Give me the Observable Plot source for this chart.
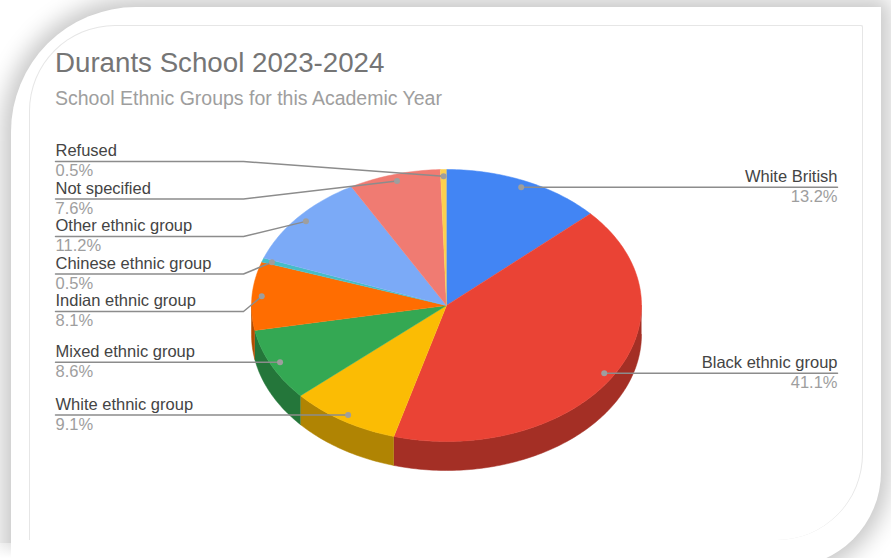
<!DOCTYPE html>
<html>
<head>
<meta charset="utf-8">
<script src="https://cdn.jsdelivr.net/npm/d3@7"></script>
<script src="https://cdn.jsdelivr.net/npm/@observablehq/plot@0.6"></script>
<style>
  html, body { margin: 0; padding: 0; background: #fff; overflow: hidden; }
  #page { position: relative; width: 891px; height: 558px; overflow: hidden; font-family: "Liberation Sans", Arial, sans-serif; }
  #card { position: absolute; left: 11px; top: 7px; width: 870px; height: 560px; background: #fff;
          border-radius: 125px 0 95px 0; box-shadow: 0 0 22px 9px #c8c8c8; }
  #fade { position: absolute; left: 0; top: 543px; width: 11px; height: 15px;
          background: linear-gradient(#ffffff66, #fff); }
  #inner { position: absolute; left: 29px; top: 25px; width: 834px; height: 515px; box-sizing: border-box;
           border: 1px solid #e6e6e6; border-bottom: 0; border-radius: 86px 2px 86px 0; }
  h1, h2 { position: absolute; left: 55px; margin: 0; font-weight: 400; white-space: nowrap; }
  h1 { top: 47px; font-size: 27.7px; line-height: 32px; color: #757575; }
  h2 { top: 87px; font-size: 19.5px; line-height: 22px; color: #9e9e9e; }
  #chart { position: absolute; left: 0; top: 0; }
  #chart svg { display: block; }
</style>
</head>
<body>
<div id="page">
  <div id="card"></div>
  <div id="fade"></div>
  <div id="inner"></div>
  <h1>Durants School 2023-2024</h1>
  <h2>School Ethnic Groups for this Academic Year</h2>
  <div id="chart"></div>
</div>
<script>
// Share of pupils per ethnic group, clockwise from twelve o'clock
const categories = ["White British", "Black ethnic group", "White ethnic group", "Mixed ethnic group",
  "Indian ethnic group", "Chinese ethnic group", "Other ethnic group", "Not specified", "Refused"];
const shares = [13.2, 41.1, 9.1, 8.6, 8.1, 0.5, 11.2, 7.6, 0.5];
const sliceColors = ["#4285f4", "#ea4335", "#fbbc04", "#34a853", "#ff6d01", "#46bdc6", "#7baaf7", "#f07b72", "#fcd04f"];

// Tilted-disc geometry
const cx = 446, cy = 305, rx = 195, ry = 136, depth = 29;
const leftEdge = 55, rightEdge = 837, elbowX = 243, firstRow = 161, rowGap = 37.5;
const step = Math.PI / 180;

const rim = (a, drop = 0) => ({x: cx + rx * Math.sin(a), y: cy - ry * Math.cos(a) + drop});
const sweep = (a0, a1) => [...d3.range(a0, a1, step), a1];

const arcs = d3.pie().sort(null).value((d) => d)(shares).map((p, i) => ({
  name: categories[i], share: shares[i], color: sliceColors[i],
  side: d3.rgb(sliceColors[i]).darker(1).formatHex(),
  a0: p.startAngle, a1: p.endAngle, mid: (p.startAngle + p.endAngle) / 2
}));

// Top faces
const tops = arcs.flatMap((s) => [{x: cx, y: cy}, ...sweep(s.a0, s.a1).map((a) => rim(a))]
  .map((p) => ({...p, name: s.name, color: s.color})));

// Outer wall, only where it faces the viewer
const walls = arcs.flatMap((s) => {
  const a0 = Math.max(s.a0, Math.PI / 2), a1 = Math.min(s.a1, 3 * Math.PI / 2);
  if (a0 >= a1) return [];
  const angles = sweep(a0, a1);
  return [...angles.map((a) => rim(a)), ...angles.reverse().map((a) => rim(a, depth))]
    .map((p) => ({...p, name: s.name, color: s.side}));
});

// Callouts: the left column starts at a fixed row, and each row below it
// sits at its anchor's height unless the row above pushes it down
const anchored = arcs.map((s) => ({
  ...s,
  anchor: {x: cx + 0.95 * rx * Math.sin(s.mid), y: cy - 0.95 * ry * Math.cos(s.mid)},
  right: s.mid < Math.PI
}));
const byHeight = (list) => list.sort((a, b) => a.anchor.y - b.anchor.y);
byHeight(anchored.filter((s) => s.right)).forEach((s) => { s.row = s.anchor.y; });
byHeight(anchored.filter((s) => !s.right)).forEach((s, i, list) => {
  s.row = i === 0 ? firstRow : Math.max(s.anchor.y, list[i - 1].row + rowGap);
});

const leaders = anchored.flatMap((s) => {
  const edge = s.right ? rightEdge : leftEdge;
  const straight = Math.abs(s.row - s.anchor.y) < 0.5;
  const path = straight
    ? [{x: edge, y: s.row}, {x: s.anchor.x, y: s.row}]
    : [{x: edge, y: s.row}, {x: elbowX, y: s.row}, s.anchor];
  return path.map((p) => ({...p, name: s.name}));
});

const rows = anchored.map((s) => ({
  ...s, x: s.right ? rightEdge : leftEdge, y: s.row, percent: s.share.toFixed(1) + "%"
}));
const rightRows = rows.filter((s) => s.right), leftRows = rows.filter((s) => !s.right);

const labelMarks = (data, textAnchor) => [
  Plot.text(data, {x: "x", y: "y", text: "name", textAnchor, dy: -10.5, fontSize: 16.5, fill: "#444444"}),
  Plot.text(data, {x: "x", y: "y", text: "percent", textAnchor, dy: 9.5, fontSize: 16.5, fill: "#9e9e9e"})
];

const chart = Plot.plot({
  width: 891, height: 558,
  margin: 0,
  x: {domain: [0, 891], range: [0, 891], axis: null},
  y: {domain: [0, 558], range: [0, 558], axis: null},
  style: {background: "transparent", fontFamily: '"Liberation Sans", Arial, sans-serif'},
  marks: [
    Plot.line(walls, {x: "x", y: "y", z: "name", fill: "color", stroke: "color", strokeWidth: 0.5}),
    Plot.line(tops, {x: "x", y: "y", z: "name", fill: "color", stroke: "color", strokeWidth: 0.5}),
    Plot.line(leaders, {x: "x", y: "y", z: "name", stroke: "#8c8c8c", strokeWidth: 1.5}),
    Plot.dot(anchored.map((s) => s.anchor), {x: "x", y: "y", r: 3, fill: "#9e9e9e"}),
    ...labelMarks(leftRows, "start"),
    ...labelMarks(rightRows, "end")
  ]
});
document.getElementById("chart").append(chart);
</script>
</body>
</html>
